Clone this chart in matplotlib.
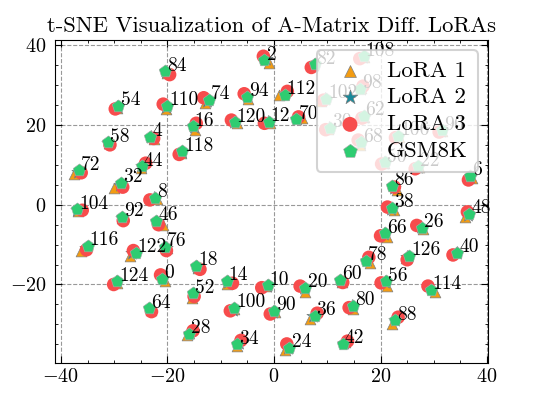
import matplotlib
matplotlib.use("Agg")
import matplotlib.pyplot as plt

plt.rcParams["font.family"] = ["cmr10", "DejaVu Serif"]
plt.rcParams["mathtext.fontset"] = "cm"
plt.rcParams["axes.formatter.use_mathtext"] = True
plt.rcParams["xtick.direction"] = "in"
plt.rcParams["ytick.direction"] = "in"
plt.rcParams["xtick.top"] = True
plt.rcParams["ytick.right"] = True
plt.rcParams["xtick.minor.visible"] = True
plt.rcParams["ytick.minor.visible"] = True

labels = list(range(0, 128, 2))

# GSM8K (pentagon)
gsm_x = [-21.0, -1.8, -23.2, 36.8, -22.4, -1.2, -1.0, -8.9, -15.3, -14.6, 5.9, 27.0, 2.9, 27.8, -15.9, 10.5,
         -28.8, -6.9, 7.6, 22.2, 34.4, 12.9, -24.8, -22.1, 36.6, 20.8, -15.2, -29.2, 21.0, -31.2, 12.4, 16.8,
         -23.4, 20.9, 16.4, 4.2, -36.6, -12.2, -20.5, 17.3, 14.8, 7.6, -20.4, 22.2, 22.7, 0.0, -28.6, -5.0,
         31.5, 16.2, -7.5, 9.8, -37.0, 23.3, 16.8, -20.0, 2.0, 29.4, -35.0, -17.2, -7.4, -26.0, -29.5, 25.3]
gsm_y = [-18.6, 36.2, 17.0, 7.2, 1.8, -20.2, 20.8, -19.1, 19.6, -15.4, -20.9, 9.6, -35.9, -5.8, -32.3, 19.3,
         5.4, -35.0, -27.8, -0.8, -12.0, -34.8, 9.6, -4.1, -2.3, 10.6, -22.2, 24.8, -19.2, 15.6, -18.9, 22.2,
         -26.0, -7.2, 15.6, 21.4, 8.6, 26.2, -10.5, -14.0, -25.3, 35.2, 33.4, 4.8, -29.0, -26.6, -3.0, 27.0,
         18.6, 29.0, -25.9, 26.6, -1.2, 17.2, 37.2, 24.8, 27.6, -21.4, -10.4, 13.4, 20.6, -12.0, -19.2, -12.8]

# LoRA 3 (circle)
l3_x = [-21.3, -2.0, -22.6, 36.5, -23.3, -2.3, -1.8, -7.8, -14.6, -13.9, 4.9, 26.5, 2.4, 26.8, -15.2, 9.7,
        -28.4, -6.2, 8.1, 21.3, 33.6, 13.8, -24.1, -21.7, 36.3, 20.2, -15.0, -29.8, 20.1, -30.8, 12.9, 16.5,
        -23.0, 20.0, 15.8, 4.6, -36.2, -13.2, -20.2, 17.8, 14.1, 7.0, -19.6, 22.6, 23.3, -0.7, -28.3, -5.6,
        31.0, 16.7, -8.2, 9.3, -36.0, 22.8, 16.1, -20.8, 2.5, 28.9, -35.2, -17.8, -8.0, -26.4, -30.1, 25.0]
l3_y = [-17.6, 37.2, 16.6, 6.2, 1.2, -20.8, 20.4, -19.7, 20.4, -16.2, -20.4, 9.0, -34.9, -5.2, -31.6, 18.8,
        4.4, -34.0, -27.2, -0.6, -12.6, -34.2, 10.4, -5.0, -1.8, 10.2, -23.0, 24.0, -19.6, 15.0, -19.5, 21.7,
        -26.8, -7.8, 16.2, 22.0, 8.0, 26.8, -11.5, -13.2, -25.8, 34.4, 32.6, 4.4, -28.2, -27.4, -4.0, 27.8,
        18.2, 29.7, -26.6, 26.2, -1.4, 16.8, 36.6, 25.2, 28.4, -20.4, -11.3, 12.6, 21.2, -11.5, -20.0, -13.8]

# LoRA 1 (triangle)
l1_x = [-20.4, -1.0, -22.5, 37.2, -22.0, -1.5, -0.8, -8.8, -14.8, -14.3, 5.8, 27.2, 2.0, 28.0, -16.4, 10.2,
        -30.0, -7.0, 6.7, 22.6, 34.2, 13.3, -24.9, -20.9, 35.9, 20.7, -15.4, -29.4, 21.2, -31.0, 12.7, 16.9,
        -23.0, 21.2, 16.2, 5.2, -37.6, -13.0, -20.0, 18.0, 14.9, 7.4, -20.0, 23.0, 22.2, 0.2, -28.5, -4.8,
        31.6, 16.4, -7.6, 8.9, -36.8, 23.4, 16.9, -20.2, 1.0, 30.2, -36.2, -17.4, -7.0, -27.0, -29.4, 24.8]
l1_y = [-19.2, 35.6, 16.5, 6.8, 1.5, -20.4, 20.5, -20.0, 18.6, -15.8, -21.9, 9.4, -36.5, -6.0, -32.6, 19.0,
        4.2, -35.5, -28.6, -1.4, -11.8, -34.5, 9.2, -5.0, -3.0, 10.4, -23.3, 24.3, -20.3, 15.4, -19.4, 22.0,
        -26.5, -8.0, 15.0, 21.8, 7.6, 25.4, -10.8, -14.6, -26.2, 35.0, 33.0, 3.6, -29.8, -27.0, -3.3, 26.6,
        18.4, 29.2, -26.2, 26.0, -1.6, 17.0, 37.0, 23.9, 27.4, -22.0, -11.6, 13.0, 20.4, -12.8, -19.6, -13.4]

# LoRA 2 (star)
l2_x = [-20.8, -1.5, -23.0, 36.8, -22.6, -1.4, -1.2, -8.6, -15.0, -14.4, 5.6, 27.0, 2.7, 27.6, -15.8, 10.3,
        -29.0, -6.6, 7.3, 22.0, 34.3, 13.1, -24.7, -21.9, 36.4, 20.6, -15.1, -29.4, 20.8, -31.1, 12.6, 16.8,
        -23.2, 20.7, 16.3, 4.4, -36.8, -12.5, -20.3, 17.5, 14.6, 7.5, -20.2, 22.5, 22.8, -0.1, -28.5, -5.0,
        31.4, 16.3, -7.7, 9.6, -36.9, 23.2, 16.7, -20.3, 2.0, 29.5, -35.3, -17.3, -7.5, -26.6, -29.6, 25.0]
l2_y = [-18.4, 36.5, 17.0, 7.0, 1.6, -20.3, 20.7, -19.4, 19.5, -15.6, -21.0, 9.5, -35.8, -5.6, -32.1, 19.2,
        5.0, -34.6, -28.0, -1.0, -12.1, -34.6, 9.8, -4.4, -2.5, 10.5, -22.5, 24.4, -19.5, 15.5, -19.1, 22.1,
        -26.2, -7.4, 15.4, 21.5, 8.3, 26.0, -10.9, -13.9, -25.5, 35.1, 33.2, 4.3, -28.8, -27.0, -3.4, 27.2,
        18.5, 29.1, -26.3, 26.5, -1.3, 17.1, 37.1, 24.5, 27.8, -21.2, -10.8, 13.1, 20.8, -12.0, -19.5, -13.1]

fig = plt.figure(figsize=(5.4, 3.99), dpi=100)
ax = fig.add_axes([0.102, 0.09, 0.802, 0.81])

ax.scatter(l1_x, l1_y, marker="^", s=60, color="#F39C12", edgecolors="gray", linewidths=0.5, label="LoRA 1", zorder=2)
ax.scatter(l2_x, l2_y, marker="*", s=100, color="#17899A", edgecolors="gray", linewidths=0.5, label="LoRA 2", zorder=2)
ax.scatter(l3_x, l3_y, marker="o", s=95, color="#F74C4C", edgecolors="none", label="LoRA 3", zorder=2)
ax.scatter(gsm_x, gsm_y, marker="p", s=90, color="#2ECC71", edgecolors="#aaaaaa", linewidths=0.4, label="GSM8K", zorder=2)

for lab, x, y in zip(labels, gsm_x, gsm_y):
    ax.annotate(str(lab), (x, y), xytext=(1.5, 0.5), textcoords="offset points",
                ha="left", va="baseline", fontsize=14, zorder=3)

ax.set_xlim(-41.1, 40.2)
ax.set_ylim(-39.7, 41.3)
ax.set_xticks([-40, -20, 0, 20, 40])
ax.set_yticks([-20, 0, 20, 40])
ax.xaxis.set_minor_locator(matplotlib.ticker.MultipleLocator(5))
ax.yaxis.set_minor_locator(matplotlib.ticker.MultipleLocator(5))
ax.tick_params(which="major", length=5, width=0.8, labelsize=14.5)
ax.tick_params(axis="y", which="major", pad=6)
ax.tick_params(which="minor", length=2.5, width=0.6)
ax.grid(True, which="major", linestyle="--", color="gray", linewidth=0.8, alpha=0.8)
ax.set_axisbelow(True)
ax.set_title("t-SNE Visualization of A-Matrix Diff. LoRAs", fontsize=16.3)

leg = ax.legend(loc="upper right", fontsize=16.5, framealpha=0.8, labelspacing=0.3,
                borderaxespad=0.45, handletextpad=0.6, markerscale=1.1, borderpad=0.45)
leg.get_frame().set_edgecolor("#c8c8c8")
leg.get_frame().set_linewidth(1.5)
leg.set_zorder(5)

fig.savefig("out.png", dpi=100)
